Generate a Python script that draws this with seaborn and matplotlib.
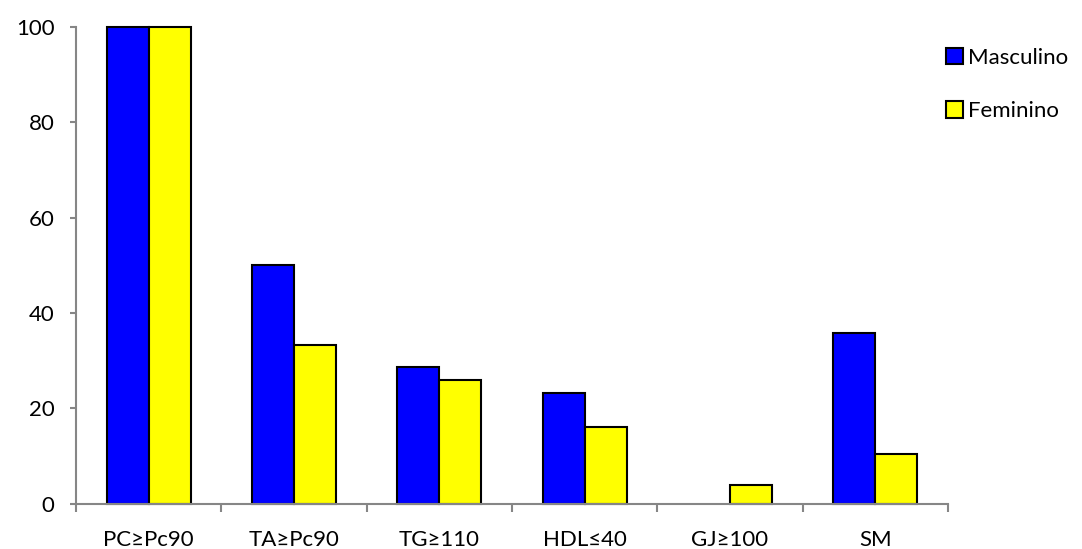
import matplotlib
matplotlib.use("Agg")
import matplotlib.pyplot as plt
import seaborn as sns
import pandas as pd
import numpy as np

categories = ["PC≥Pc90", "TA≥Pc90", "TG≥110", "HDL≤40", "GJ≥100", "SM"]
masculino = [100, 50.0, 28.6, 23.1, 0, 35.7]
feminino = [100, 33.3, 25.9, 16.0, 3.8, 10.3]
series = ["Masculino", "Feminino"]
colors = {"Masculino": "#0000FF", "Feminino": "#FFFF00"}
yticks = [0, 20, 40, 60, 80, 100]

df = pd.DataFrame({
    "cat": categories * 2,
    "val": masculino + feminino,
    "sex": [series[0]] * len(categories) + [series[1]] * len(categories),
})

sns.set_theme(style="white")
plt.rcParams["font.family"] = ["Lato", "DejaVu Sans"]
plt.rcParams["text.color"] = "black"
plt.rcParams["xtick.color"] = "black"
plt.rcParams["ytick.color"] = "black"

fig = plt.figure(figsize=(10.82, 5.49), dpi=100)
ax = fig.add_axes([76 / 1082, (549 - 503.5) / 549, (948 - 76) / 1082, (503.5 - 27) / 549])

sns.barplot(data=df, x="cat", y="val", hue="sex", order=categories, hue_order=series,
            palette=colors, saturation=1, width=0.58, gap=0, edgecolor="black", linewidth=1.5,
            errorbar=None, ax=ax, legend=True)

for p in ax.patches:
    p.set_clip_on(False)
    if p.get_height() == 0:
        p.set_linewidth(0)

ax.set_xlim(-0.5, len(categories) - 0.5)
ax.set_ylim(0, 100)
ax.set_yticks(yticks)
ax.set_yticklabels([str(v) for v in yticks], fontsize=16)

ax.set_xticks(np.arange(-0.5, len(categories), 1.0))
ax.set_xticklabels([])
ax.set_xticks(np.arange(len(categories)), minor=True)
ax.set_xticklabels(categories, minor=True, fontsize=16)
ax.tick_params(axis="x", which="major", length=6, width=1.5, color="#868686", direction="out", bottom=True)
ax.tick_params(axis="x", which="minor", length=0, pad=19, bottom=True, labelcolor="black")
ax.tick_params(axis="y", length=4.5, width=1.5, color="#868686", direction="out", left=True, pad=11,
               labelcolor="black")
ax.set_xlabel("")
ax.set_ylabel("")

for s in ["top", "right"]:
    ax.spines[s].set_visible(False)
for s in ["left", "bottom"]:
    ax.spines[s].set_color("#868686")
    ax.spines[s].set_linewidth(1.5)

leg = ax.get_legend()
handles = leg.legend_handles
leg.remove()
fig.legend(handles, series, loc="upper left", bbox_to_anchor=(946 / 1082, 1 - 48 / 549),
           frameon=False, fontsize=16, handlelength=0.75, handleheight=0.75,
           labelspacing=1.5, handletextpad=0.25, borderaxespad=0, borderpad=0)

fig.savefig("out.png", dpi=100)
